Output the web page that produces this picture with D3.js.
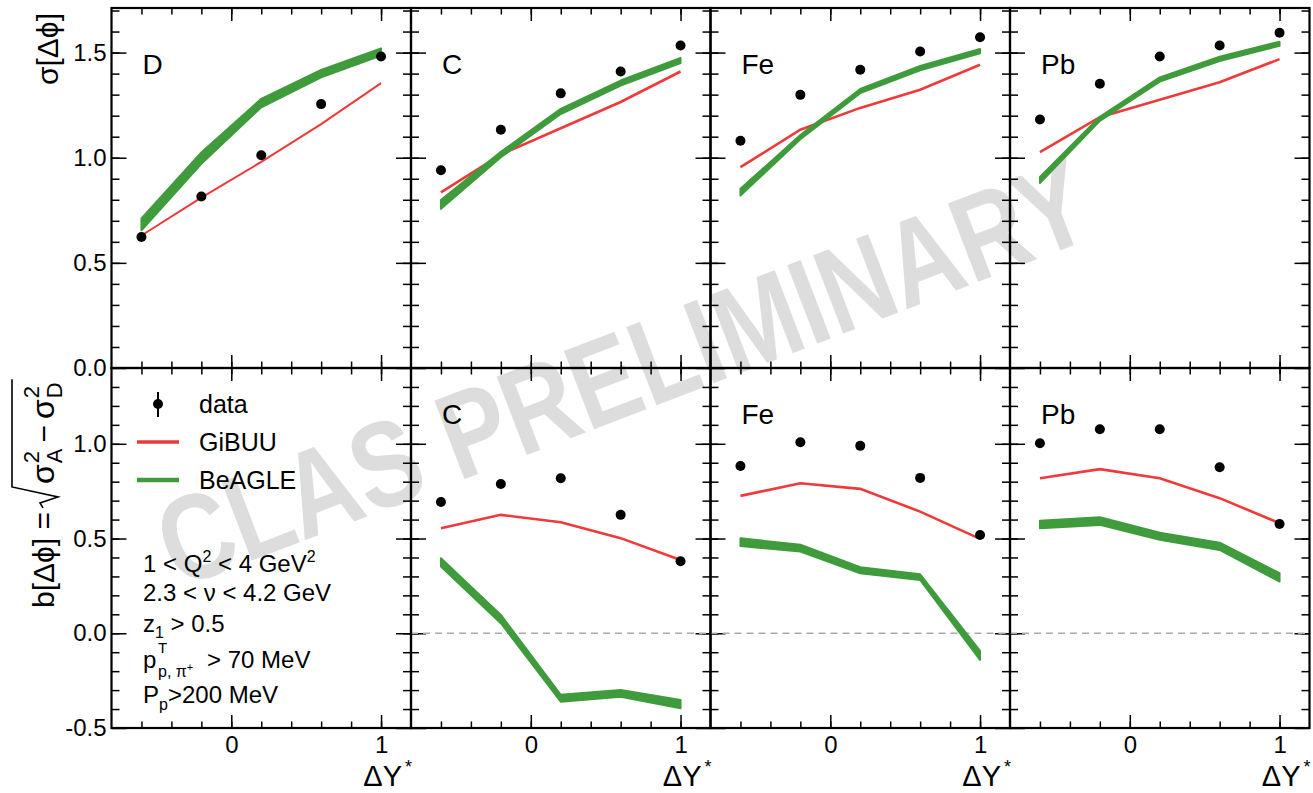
<!DOCTYPE html>
<html><head><meta charset="utf-8">
<script src="https://cdn.jsdelivr.net/npm/d3@7"></script>
<style>
body{margin:0;background:#fff;}
svg{display:block;font-family:"Liberation Sans",Arial,Helvetica,sans-serif;}
</style>
</head><body>
<svg id="chart" width="1313" height="793"></svg>
<script>
// ---------------- data ----------------
const nuclei = ["D", "C", "Fe", "Pb"];
const deltaY = [-0.6, -0.2, 0.2, 0.6, 1.0];
const xMinorTicks = [-0.6, -0.4, -0.2, 0, 0.2, 0.4, 0.6, 0.8, 1.0];
const xMajorTicks = [0, 1];
const xTickLabels = ["0", "1"];

// top row: sigma[dphi]
const sigmaData_D  = [0.623, 0.816, 1.012, 1.255, 1.481];
const sigmaData_C  = [0.940, 1.133, 1.306, 1.410, 1.534];
const sigmaData_Fe = [1.081, 1.299, 1.418, 1.505, 1.573];
const sigmaData_Pb = [1.182, 1.352, 1.481, 1.534, 1.594];
const sigmaGiBUU_D  = [0.630, 0.810, 0.980, 1.160, 1.355];
const sigmaGiBUU_C  = [0.835, 1.015, 1.140, 1.265, 1.410];
const sigmaGiBUU_Fe = [0.955, 1.133, 1.237, 1.323, 1.442];
const sigmaGiBUU_Pb = [1.027, 1.193, 1.276, 1.359, 1.469];
const sigmaBeAGLE_D  = [0.683, 0.998, 1.260, 1.400, 1.503];
const sigmaBeAGLE_C  = [0.778, 1.015, 1.220, 1.355, 1.462];
const sigmaBeAGLE_Fe = [0.836, 1.098, 1.317, 1.426, 1.507];
const sigmaBeAGLE_Pb = [0.894, 1.185, 1.372, 1.470, 1.542];
const sigmaBeAGLEerr_D  = [0.028, 0.027, 0.020, 0.018, 0.017];
const sigmaBeAGLEerr_C  = [0.021, 0.013, 0.012, 0.012, 0.012];
const sigmaBeAGLEerr_Fe = [0.016, 0.010, 0.010, 0.010, 0.010];
const sigmaBeAGLEerr_Pb = [0.014, 0.010, 0.010, 0.010, 0.010];

// bottom row: b[dphi]
const bData_C  = [0.693, 0.788, 0.818, 0.625, 0.380];
const bData_Fe = [0.883, 1.008, 0.989, 0.820, 0.519];
const bData_Pb = [1.003, 1.077, 1.077, 0.876, 0.577];
const bGiBUU_C  = [0.554, 0.625, 0.586, 0.502, 0.387];
const bGiBUU_Fe = [0.725, 0.792, 0.762, 0.642, 0.498];
const bGiBUU_Pb = [0.818, 0.866, 0.818, 0.713, 0.581];
const bBeAGLE_C  = [0.374, 0.075, -0.343, -0.317, -0.374];
const bBeAGLE_Fe = [0.481, 0.449, 0.333, 0.296, -0.117];
const bBeAGLE_Pb = [0.574, 0.592, 0.512, 0.459, 0.295];
const bBeAGLEerr_C  = [0.022, 0.022, 0.018, 0.018, 0.022];
const bBeAGLEerr_Fe = [0.020, 0.018, 0.016, 0.015, 0.024];
const bBeAGLEerr_Pb = [0.020, 0.020, 0.019, 0.019, 0.022];

const topYTicksMajor = [0, 0.5, 1.0, 1.5];
const botYTicksMajor = [-0.5, 0, 0.5, 1.0];

const legendLabels = ["data", "GiBUU", "BeAGLE"];

// ---------------- build tables ----------------
const topRows = [
  {name: "D",  data: sigmaData_D,  gibuu: sigmaGiBUU_D,  beagle: sigmaBeAGLE_D,  err: sigmaBeAGLEerr_D},
  {name: "C",  data: sigmaData_C,  gibuu: sigmaGiBUU_C,  beagle: sigmaBeAGLE_C,  err: sigmaBeAGLEerr_C},
  {name: "Fe", data: sigmaData_Fe, gibuu: sigmaGiBUU_Fe, beagle: sigmaBeAGLE_Fe, err: sigmaBeAGLEerr_Fe},
  {name: "Pb", data: sigmaData_Pb, gibuu: sigmaGiBUU_Pb, beagle: sigmaBeAGLE_Pb, err: sigmaBeAGLEerr_Pb}
];
const botRows = [
  null,
  {name: "C",  data: bData_C,  gibuu: bGiBUU_C,  beagle: bBeAGLE_C,  err: bBeAGLEerr_C},
  {name: "Fe", data: bData_Fe, gibuu: bGiBUU_Fe, beagle: bBeAGLE_Fe, err: bBeAGLEerr_Fe},
  {name: "Pb", data: bData_Pb, gibuu: bGiBUU_Pb, beagle: bBeAGLE_Pb, err: bBeAGLEerr_Pb}
];

// ---------------- layout ----------------
const svg = d3.select("#chart");
const RED = "#ee3a3a", GREEN = "#3f9b3c", GRAY_WM = "#dddddd";
const colLeft = [111.5, 411, 710.5, 1010];
const colW = 299.5;
const rowTop = {y0: 8, y1: 368, dom: [0, 1.712]};
const rowBot = {y0: 368, y1: 728, dom: [-0.5, 1.4]};

// watermark (underneath everything)
svg.append("text")
  .attr("transform", "translate(178,589) rotate(-21) scale(0.82,1)")
  .attr("font-size", 122).attr("font-weight", "bold")
  .attr("fill", GRAY_WM)
  .text("CLAS PRELIMINARY");

function range(a, b, s) { const r = []; for (let v = a; v <= b + 1e-9; v += s) r.push(+v.toFixed(3)); return r; }

function drawPanel(col, row, rec, isBottom) {
  const L = colLeft[col];
  const x = d3.scaleLinear().domain([-0.8, 1.2]).range([L, L + colW]);
  const y = d3.scaleLinear().domain(row.dom).range([row.y1, row.y0]);
  const g = svg.append("g");

  const yMinor = isBottom ? range(-0.4, 1.3, 0.1) : range(0.1, 1.7, 0.1);
  const yMajor = isBottom ? botYTicksMajor : topYTicksMajor;
  const tickStyle = sel => { sel.select(".domain").remove(); sel.selectAll("line").attr("stroke", "#000").attr("stroke-width", 1.5); };
  const mk = (axis, tr) => g.append("g").attr("transform", tr).call(axis).call(tickStyle);
  mk(d3.axisBottom(x).tickValues(xMinorTicks).tickSize(-6.5).tickFormat(""), `translate(0,${row.y1})`);
  mk(d3.axisBottom(x).tickValues(xMajorTicks).tickSize(-13).tickFormat(""), `translate(0,${row.y1})`);
  mk(d3.axisTop(x).tickValues(xMinorTicks).tickSize(-6.5).tickFormat(""), `translate(0,${row.y0})`);
  mk(d3.axisTop(x).tickValues(xMajorTicks).tickSize(-13).tickFormat(""), `translate(0,${row.y0})`);
  mk(d3.axisLeft(y).tickValues(yMinor).tickSize(-8).tickFormat(""), `translate(${L},0)`);
  mk(d3.axisLeft(y).tickValues(yMajor).tickSize(-15).tickFormat(""), `translate(${L},0)`);
  mk(d3.axisRight(y).tickValues(yMinor).tickSize(-8).tickFormat(""), `translate(${L + colW},0)`);
  mk(d3.axisRight(y).tickValues(yMajor).tickSize(-15).tickFormat(""), `translate(${L + colW},0)`);

  if (col === 0) {
    const ya = g.append("g").attr("transform", `translate(${L},0)`)
      .call(d3.axisLeft(y).tickValues(yMajor).tickSize(0).tickPadding(5).tickFormat(d => d.toFixed(1)));
    ya.select(".domain").remove();
    ya.selectAll("text").attr("font-size", 24).attr("font-family", "Liberation Sans, Arial, sans-serif").attr("fill", "#000");
  }
  if (isBottom) {
    const xa = g.append("g").attr("transform", `translate(0,${row.y1})`)
      .call(d3.axisBottom(x).tickValues(xMajorTicks).tickSize(0).tickPadding(8).tickFormat((d, i) => xTickLabels[i]));
    xa.select(".domain").remove();
    xa.selectAll("text").attr("font-size", 24).attr("font-family", "Liberation Sans, Arial, sans-serif").attr("fill", "#000");
    const t = g.append("text").attr("x", L + colW + 1).attr("y", 786).attr("text-anchor", "end").attr("font-size", 29);
    t.append("tspan").text("ΔY");
    t.append("tspan").attr("font-size", 18).attr("dx", 3).attr("dy", -13).text("*");
  }

  if (isBottom && col > 0) {
    g.append("line").attr("x1", L).attr("x2", L + colW).attr("y1", y(0)).attr("y2", y(0))
      .attr("stroke", "#aaa").attr("stroke-width", 1.5).attr("stroke-dasharray", "7,5");
  }

  if (rec) {
    const pts = deltaY.map((d, i) => ({x: d, data: rec.data[i], gibuu: rec.gibuu[i], beagle: rec.beagle[i], err: rec.err[i]}));
    g.append("path").datum(pts)
      .attr("d", d3.line().x(d => x(d.x)).y(d => y(d.gibuu)))
      .attr("fill", "none").attr("stroke", RED).attr("stroke-width", col === 0 ? 2 : 2.6);
    g.append("path").datum(pts)
      .attr("d", d3.area().x(d => x(d.x)).y0(d => y(d.beagle - d.err)).y1(d => y(d.beagle + d.err)))
      .attr("fill", GREEN).attr("stroke", GREEN).attr("stroke-width", 2).attr("stroke-linejoin", "round");
    g.selectAll("circle.pt").data(pts).join("circle")
      .attr("cx", d => x(d.x)).attr("cy", d => y(d.data)).attr("r", 5).attr("fill", "#000");
    g.append("text").attr("x", L + 31).attr("y", isBottom ? 424 : 74).attr("font-size", 28).text(rec.name);
  }

  g.append("rect").attr("x", L).attr("y", row.y0).attr("width", colW).attr("height", row.y1 - row.y0)
    .attr("fill", "none").attr("stroke", "#000").attr("stroke-width", 2.2);
}

for (let c = 0; c < 4; c++) {
  drawPanel(c, rowTop, topRows[c], false);
  drawPanel(c, rowBot, botRows[c], true);
}

// ---------------- legend (bottom-left panel) ----------------
const lg = svg.append("g");
lg.append("line").attr("x1", 158).attr("x2", 158).attr("y1", 392).attr("y2", 417).attr("stroke", "#000").attr("stroke-width", 2);
lg.append("circle").attr("cx", 158).attr("cy", 404).attr("r", 5).attr("fill", "#000");
lg.append("line").attr("x1", 137).attr("x2", 179).attr("y1", 442).attr("y2", 442).attr("stroke", RED).attr("stroke-width", 3.5);
lg.append("line").attr("x1", 137).attr("x2", 179).attr("y1", 480).attr("y2", 480).attr("stroke", GREEN).attr("stroke-width", 4.5);
[413, 451, 489].forEach((yy, i) => lg.append("text").attr("x", 199).attr("y", yy).attr("font-size", 25).text(legendLabels[i]));

// ---------------- cut annotations ----------------
const ann = svg.append("g").attr("font-size", 24);
{
  const t = ann.append("text").attr("x", 143).attr("y", 572);
  t.append("tspan").text("1 < Q");
  t.append("tspan").attr("font-size", 16).attr("dy", -10).text("2");
  t.append("tspan").attr("dy", 10).text(" < 4 GeV");
  t.append("tspan").attr("font-size", 16).attr("dy", -10).text("2");
}
ann.append("text").attr("x", 143).attr("y", 601).text("2.3 < ν < 4.2 GeV");
{
  const t = ann.append("text").attr("x", 143).attr("y", 632);
  t.append("tspan").text("z");
  t.append("tspan").attr("font-size", 16).attr("dy", 6).text("1");
  t.append("tspan").attr("dy", -6).text(" > 0.5");
}
{
  const t = ann.append("text").attr("x", 143).attr("y", 668);
  t.append("tspan").text("p");
  ann.append("text").attr("x", 158).attr("y", 653).attr("font-size", 15).text("T");
  const s = ann.append("text").attr("x", 158).attr("y", 677).attr("font-size", 16);
  s.append("tspan").text("p, π");
  s.append("tspan").attr("font-size", 11).attr("dy", -6).text("+");
  ann.append("text").attr("x", 207).attr("y", 668).text("> 70 MeV");
}
{
  const t = ann.append("text").attr("x", 143).attr("y", 703);
  t.append("tspan").text("P");
  t.append("tspan").attr("font-size", 16).attr("dy", 7).text("p");
  t.append("tspan").attr("dy", -7).text(">200 MeV");
}

// ---------------- y-axis titles ----------------
svg.append("text")
  .attr("transform", "translate(58,13) rotate(-90)")
  .attr("text-anchor", "end").attr("font-size", 30)
  .text("σ[Δϕ]");

{
  const g = svg.append("g").attr("transform", "translate(54,608) rotate(-90)").attr("font-size", 30);
  let xx = 0;
  const t1 = g.append("text").attr("x", 0).attr("y", 0).text("b[Δϕ] =");
  xx = t1.node().getComputedTextLength() + 4;
  const r0 = xx;
  xx += 24;
  function sig(sub) {
    const s = g.append("text").attr("x", xx).attr("y", 0).attr("font-size", 32).text("σ");
    const w = s.node().getComputedTextLength();
    const a = g.append("text").attr("x", xx + w + 1).attr("y", -15).attr("font-size", 22).text("2");
    const b = g.append("text").attr("x", xx + w + 1).attr("y", 8).attr("font-size", 22).text(sub);
    xx += w + 1 + Math.max(a.node().getComputedTextLength(), b.node().getComputedTextLength());
  }
  sig("A");
  xx += 6;
  const m = g.append("text").attr("x", xx).attr("y", 0).text("−");
  xx += m.node().getComputedTextLength() + 6;
  sig("D");
  xx += 3;
  g.append("path")
    .attr("d", `M${r0},-11 L${r0 + 5},-14 L${r0 + 11},4 L${r0 + 21},-42 L${xx},-42`)
    .attr("fill", "none").attr("stroke", "#000").attr("stroke-width", 1.6).attr("stroke-linejoin", "miter");
}
</script>
</body></html>
